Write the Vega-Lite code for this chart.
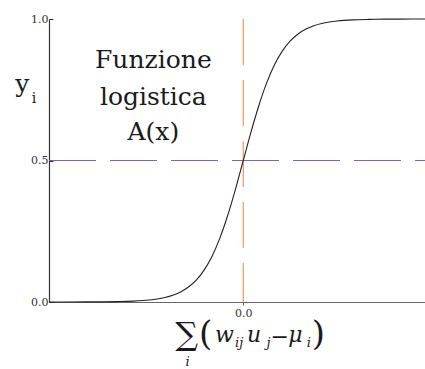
{
  "$schema": "https://vega.github.io/schema/vega-lite/v6.json",
  "autosize": "none",
  "width": 376,
  "height": 283,
  "padding": {"left": 49, "top": 19, "right": 0, "bottom": 67},
  "background": "white",
  "config": {
    "view": {"stroke": null},
    "font": "DejaVu Serif"
  },
  "datasets": {
    "curve": [
      {"x": -6.2, "y": 0.0},
      {"x": -5.0, "y": 0.0003},
      {"x": -4.5, "y": 0.0006},
      {"x": -4.0, "y": 0.0014},
      {"x": -3.5, "y": 0.0031},
      {"x": -3.0, "y": 0.0070},
      {"x": -2.75, "y": 0.0106},
      {"x": -2.5, "y": 0.0159},
      {"x": -2.25, "y": 0.0238},
      {"x": -2.0, "y": 0.0356},
      {"x": -1.75, "y": 0.0528},
      {"x": -1.5, "y": 0.0776},
      {"x": -1.25, "y": 0.1128},
      {"x": -1.0, "y": 0.1611},
      {"x": -0.75, "y": 0.2249},
      {"x": -0.5, "y": 0.3047},
      {"x": -0.25, "y": 0.3983},
      {"x": 0.0, "y": 0.5},
      {"x": 0.25, "y": 0.6017},
      {"x": 0.5, "y": 0.6953},
      {"x": 0.75, "y": 0.7751},
      {"x": 1.0, "y": 0.8389},
      {"x": 1.25, "y": 0.8872},
      {"x": 1.5, "y": 0.9224},
      {"x": 1.75, "y": 0.9472},
      {"x": 2.0, "y": 0.9644},
      {"x": 2.25, "y": 0.9762},
      {"x": 2.5, "y": 0.9841},
      {"x": 2.75, "y": 0.9894},
      {"x": 3.0, "y": 0.9930},
      {"x": 3.5, "y": 0.9969},
      {"x": 4.0, "y": 0.9986},
      {"x": 4.5, "y": 0.9994},
      {"x": 5.0, "y": 0.9997},
      {"x": 5.8, "y": 1.0}
    ],
    "title": [
      {"label": "Funzione", "x": -2.87, "y": 0.827},
      {"label": "logistica", "x": -2.87, "y": 0.696},
      {"label": "A(x)", "x": -2.87, "y": 0.572},
      {"label": "y", "x": -7.05, "y": 0.742}
    ],
    "sub": [
      {"label": "i", "x": -6.68, "y": 0.703}
    ],
    "big": [
      {"label": "∑", "x": -1.81, "y": -0.117, "size": 32},
      {"label": "(", "x": -1.2, "y": -0.117, "size": 34},
      {"label": ")", "x": 2.4, "y": -0.117, "size": 34}
    ],
    "italic": [
      {"label": "w", "x": -0.6, "y": -0.141},
      {"label": "u", "x": 0.343, "y": -0.141},
      {"label": "μ", "x": 1.667, "y": -0.141}
    ],
    "italicSub": [
      {"label": "ij", "x": -0.13, "y": -0.159},
      {"label": "j", "x": 0.805, "y": -0.159},
      {"label": "i", "x": 2.09, "y": -0.159},
      {"label": "i", "x": -1.78, "y": -0.226}
    ],
    "minus": [
      {"label": "−", "x": 1.16, "y": -0.124}
    ]
  },
  "layer": [
    {
      "data": {"values": [{"x": -6.2, "x2": 5.8, "y": 0.5}]},
      "mark": {"type": "rule", "color": "#7f5fc6", "strokeWidth": 1.2, "strokeDash": [47, 14]},
      "encoding": {
        "x": {"field": "x", "type": "quantitative"},
        "x2": {"field": "x2"},
        "y": {"field": "y", "type": "quantitative"}
      }
    },
    {
      "data": {"values": [{"x": 0, "y": 1, "y2": 0}]},
      "mark": {"type": "rule", "color": "#e8905a", "strokeWidth": 1.1, "strokeDash": [46, 15]},
      "encoding": {
        "x": {"field": "x", "type": "quantitative"},
        "y": {"field": "y", "type": "quantitative"},
        "y2": {"field": "y2"}
      }
    },
    {
      "data": {"name": "curve"},
      "mark": {"type": "line", "color": "#222222", "strokeWidth": 1.1, "interpolate": "monotone"},
      "encoding": {
        "x": {
          "field": "x", "type": "quantitative",
          "scale": {"domain": [-6.2, 5.8], "nice": false, "zero": false},
          "axis": {
            "title": null, "values": [0], "format": ".1f", "grid": false,
            "domainColor": "#666666", "domainWidth": 1.2,
            "tickColor": "#666666", "tickSize": 3,
            "labelFont": "DejaVu Serif", "labelFontSize": 11, "labelColor": "#333333", "labelPadding": 2
          }
        },
        "y": {
          "field": "y", "type": "quantitative",
          "scale": {"domain": [0, 1], "nice": false},
          "axis": {
            "title": null, "values": [0, 0.5, 1], "format": ".1f", "grid": false,
            "domainColor": "#333333", "domainWidth": 1.2,
            "tickColor": "#333333", "tickSize": -4,
            "labelFont": "DejaVu Serif", "labelFontSize": 11, "labelColor": "#333333", "labelPadding": 5
          }
        }
      }
    },
    {
      "data": {"name": "title"},
      "mark": {"type": "text", "font": "DejaVu Serif", "fontSize": 25, "color": "#1a1a1a", "align": "center", "baseline": "alphabetic"},
      "encoding": {
        "x": {"field": "x", "type": "quantitative"},
        "y": {"field": "y", "type": "quantitative"},
        "text": {"field": "label"}
      }
    },
    {
      "data": {"name": "sub"},
      "mark": {"type": "text", "font": "DejaVu Serif", "fontSize": 14, "color": "#1a1a1a", "align": "center", "baseline": "alphabetic"},
      "encoding": {
        "x": {"field": "x", "type": "quantitative"},
        "y": {"field": "y", "type": "quantitative"},
        "text": {"field": "label"}
      }
    },
    {
      "data": {"name": "big"},
      "mark": {"type": "text", "font": "DejaVu Serif", "color": "#1a1a1a", "align": "center", "baseline": "middle"},
      "encoding": {
        "x": {"field": "x", "type": "quantitative"},
        "y": {"field": "y", "type": "quantitative"},
        "size": {"field": "size", "type": "quantitative", "scale": null},
        "text": {"field": "label"}
      }
    },
    {
      "data": {"name": "italic"},
      "mark": {"type": "text", "font": "DejaVu Serif", "fontStyle": "italic", "fontSize": 22, "color": "#1a1a1a", "align": "center", "baseline": "alphabetic"},
      "encoding": {
        "x": {"field": "x", "type": "quantitative"},
        "y": {"field": "y", "type": "quantitative"},
        "text": {"field": "label"}
      }
    },
    {
      "data": {"name": "italicSub"},
      "mark": {"type": "text", "font": "DejaVu Serif", "fontStyle": "italic", "fontSize": 13, "color": "#1a1a1a", "align": "center", "baseline": "alphabetic"},
      "encoding": {
        "x": {"field": "x", "type": "quantitative"},
        "y": {"field": "y", "type": "quantitative"},
        "text": {"field": "label"}
      }
    },
    {
      "data": {"name": "minus"},
      "mark": {"type": "text", "font": "DejaVu Serif", "fontSize": 22, "color": "#1a1a1a", "align": "center", "baseline": "middle"},
      "encoding": {
        "x": {"field": "x", "type": "quantitative"},
        "y": {"field": "y", "type": "quantitative"},
        "text": {"field": "label"}
      }
    }
  ]
}
